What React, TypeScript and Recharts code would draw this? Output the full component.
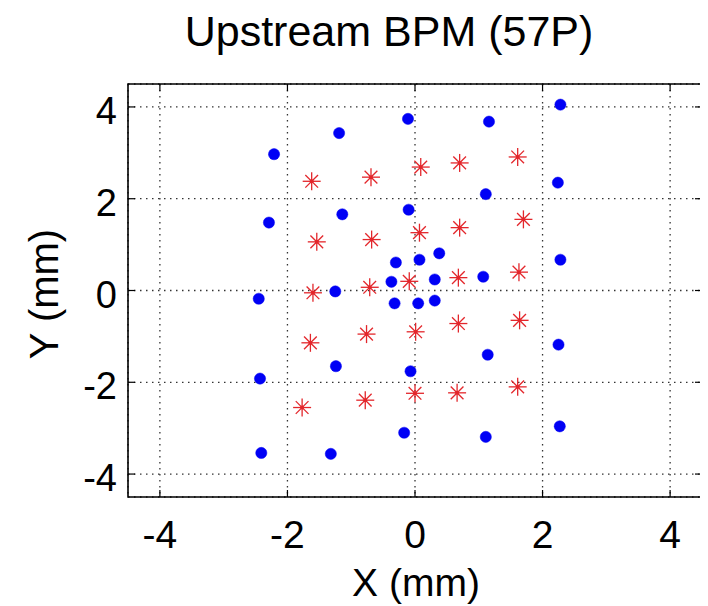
import React from 'react';
import { ScatterChart, Scatter, XAxis, YAxis, CartesianGrid, ReferenceArea } from 'recharts';

const titleText = 'Upstream BPM (57P)';
const xLabelText = 'X (mm)';
const yLabelText = 'Y (mm)';

const xTicks = [-4, -2, 0, 2, 4];
const yTicks = [-4, -2, 0, 2, 4];
const axisDomain = [-4.5, 4.5];

const blueX = [-0.11, -1.19, -2.21, -2.29, -1.14, -0.10, -0.30, -0.37, -1.25, -2.45, -0.32, 0.05, 1.16, 2.28, 2.24, 1.11, 2.28, 0.38, 0.07, 0.31, 1.07, 0.31, -1.24, -2.43, -0.07, -0.17, -2.41, -1.32, 1.14, 2.25, 1.11, 2.27];
const blueY = [3.74, 3.43, 2.97, 1.48, 1.66, 1.76, 0.61, 0.19, -0.02, -0.18, -0.28, -0.28, 3.68, 4.05, 2.35, 2.10, 0.67, 0.81, 0.67, 0.24, 0.30, -0.22, -1.65, -1.92, -1.76, -3.10, -3.54, -3.56, -1.40, -1.18, -3.19, -2.96];

const redX = [-1.62, -0.69, -1.54, -0.68, -1.60, -0.71, -0.09, 0.09, 0.70, 1.61, 0.07, 0.70, 1.70, 0.68, 1.63, -1.64, -0.76, 0.01, -1.77, -0.78, 0.00, 0.68, 1.64, 0.66, 1.61];
const redY = [2.38, 2.47, 1.06, 1.11, -0.05, 0.07, 0.20, 2.69, 2.78, 2.91, 1.26, 1.37, 1.55, 0.28, 0.40, -1.14, -0.95, -0.90, -2.55, -2.39, -2.24, -0.72, -0.65, -2.23, -2.10];

const blueData = blueX.map((x, i) => ({ x, y: blueY[i] }));
const redData = redX.map((x, i) => ({ x, y: redY[i] }));

const FONT = '"Liberation Sans", Arial, sans-serif';
const W = 700;
const H = 598;
const MARGIN = { top: 76, right: 6, bottom: 0, left: 0 };
const Y_W = 120;
const X_H = 109;
const PL = MARGIN.left + Y_W;
const PR = W - MARGIN.right;
const PT = MARGIN.top;
const PB = H - X_H;
const TICK_LEN = 7;

const XTick = (props: any) => {
  const { x, payload } = props;
  return (
    <g>
      <line x1={x} x2={x} y1={PB} y2={PB - TICK_LEN} stroke="#000" strokeWidth={1.2} />
      <line x1={x} x2={x} y1={PT} y2={PT + TICK_LEN} stroke="#000" strokeWidth={1.2} />
      <text x={x} y={PB + 51} textAnchor="middle" fontSize={39} fontFamily={FONT} fill="#000">
        {payload.value}
      </text>
    </g>
  );
};

const YTick = (props: any) => {
  const { y, payload } = props;
  return (
    <g>
      <line x1={PL} x2={PL + TICK_LEN} y1={y} y2={y} stroke="#000" strokeWidth={1.2} />
      <line x1={PR} x2={PR - TICK_LEN} y1={y} y2={y} stroke="#000" strokeWidth={1.2} />
      <text x={PL - 11} y={y + 17} textAnchor="end" fontSize={38} fontFamily={FONT} fill="#000">
        {payload.value}
      </text>
    </g>
  );
};

const BlueDot = (props: any) => {
  const { cx, cy } = props;
  return <circle cx={cx} cy={cy} r={5.6} fill="#0000f5" stroke="#0000f5" strokeWidth={0.5} />;
};

const RedStar = (props: any) => {
  const { cx, cy } = props;
  const r = 9;
  const d = r * Math.SQRT1_2;
  const c = '#e3262b';
  return (
    <g stroke={c} strokeWidth={1.3}>
      <line x1={cx - r} x2={cx + r} y1={cy} y2={cy} />
      <line x1={cx} x2={cx} y1={cy - r} y2={cy + r} />
      <line x1={cx - d} x2={cx + d} y1={cy - d} y2={cy + d} />
      <line x1={cx - d} x2={cx + d} y1={cy + d} y2={cy - d} />
      <circle cx={cx} cy={cy} r={2} fill={c} stroke="none" />
    </g>
  );
};

export default function App() {
  return (
    <div style={{ position: 'relative', width: W, height: H, background: '#fff' }}>
      <ScatterChart width={W} height={H} margin={MARGIN}>
        <CartesianGrid stroke="#333" strokeWidth={1.3} strokeDasharray="1.5 4.5" />
        <XAxis
          type="number"
          dataKey="x"
          domain={axisDomain}
          ticks={xTicks}
          interval={0}
          allowDataOverflow
          height={X_H}
          axisLine={false}
          tickLine={false}
          tick={<XTick />}
        />
        <YAxis
          type="number"
          dataKey="y"
          domain={axisDomain}
          ticks={yTicks}
          interval={0}
          allowDataOverflow
          width={Y_W}
          axisLine={false}
          tickLine={false}
          tick={<YTick />}
        />
        <ReferenceArea
          x1={axisDomain[0]}
          x2={axisDomain[1]}
          y1={axisDomain[0]}
          y2={axisDomain[1]}
          fill="none"
          fillOpacity={0}
          stroke="#000"
          strokeWidth={1.6}
          ifOverflow="visible"
        />
        <Scatter data={blueData} shape={<BlueDot />} isAnimationActive={false} />
        <Scatter data={redData} shape={<RedStar />} isAnimationActive={false} />
      </ScatterChart>
      <svg
        width={708}
        height={606}
        style={{ position: 'absolute', left: -8, top: -8, pointerEvents: 'none' }}
      >
        <text x={389} y={46} textAnchor="middle" fontSize={43} fontFamily={FONT} fill="#000">
          {titleText}
        </text>
        <text x={416} y={596} textAnchor="middle" fontSize={39} fontFamily={FONT} fill="#000">
          {xLabelText}
        </text>
        <text
          x={0}
          y={0}
          transform={`translate(58, 294) rotate(-90)`}
          textAnchor="middle"
          fontSize={40}
          fontFamily={FONT}
          fill="#000"
        >
          {yLabelText}
        </text>
      </svg>
    </div>
  );
}
